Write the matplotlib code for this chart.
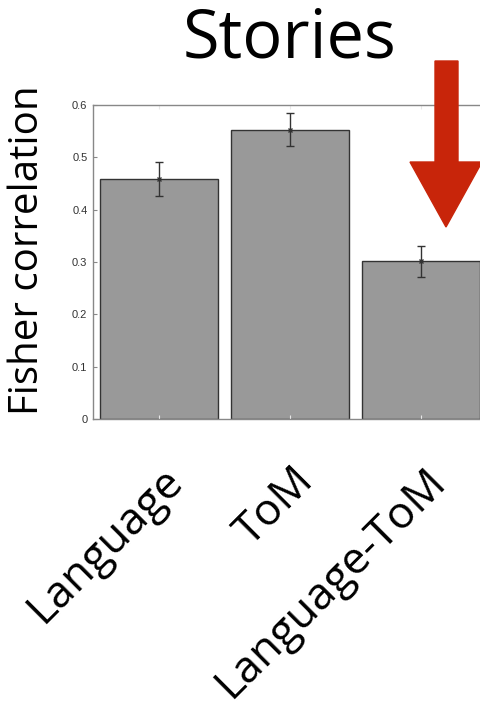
import matplotlib
matplotlib.use('Agg')
import matplotlib.pyplot as plt
import matplotlib.transforms as mtransforms
from matplotlib.patches import Polygon

categories = ['Language', 'ToM', 'Language-ToM']
means = [0.459, 0.553, 0.301]
errors = [0.032, 0.032, 0.029]
yticks = [0, 0.1, 0.2, 0.3, 0.4, 0.5, 0.6]
yticklabels = ['0', '0.1', '0.2', '0.3', '0.4', '0.5', '0.6']

W, H = 480, 720
fig = plt.figure(figsize=(4.8, 7.2), dpi=100)
ax = fig.add_axes([93 / W, 1 - 419 / H, (486.5 - 93) / W, (419 - 105) / H])

x = list(range(1, len(categories) + 1))
ax.bar(x, means, width=0.9, color='#999999', edgecolor='#333333', linewidth=1)
ax.errorbar(x, means, yerr=errors, fmt='x', color='#333333', ms=3,
            elinewidth=1, capsize=3, capthick=1)

ax.set_xlim(0.5, 3.5)
ax.set_ylim(0, 0.6)
ax.set_yticks(yticks)
ax.set_yticklabels(yticklabels, fontsize=8, color='#333333', family='Liberation Sans')
ax.set_xticks(x)
ax.set_xticklabels(categories, fontsize=32, family='Open Sans',
                   rotation=45, ha='right', va='center', rotation_mode='anchor')
ax.tick_params(axis='y', direction='in', length=3, color='#888888', pad=4)
ax.tick_params(axis='x', direction='in', length=3, color='#e8e8e8', pad=40, top=True)
offset = mtransforms.ScaledTranslation(18 / 100, 0, fig.dpi_scale_trans)
for lab in ax.get_xticklabels():
    lab.set_transform(lab.get_transform() + offset)
for s in ax.spines.values():
    s.set_color('#888888')
    s.set_linewidth(1)

fig.text(290 / W, 1 - 57 / H, 'Stories', fontsize=48, family='Open Sans',
         ha='center', va='baseline')
fig.text(28 / W, 1 - 250 / H, 'Fisher correlation', fontsize=29, family='Open Sans',
         rotation=90, ha='center', va='center')

# red arrow pointing down at the Language-ToM bar
arrow_px = [(435, 61), (458, 61), (458, 162), (482, 162), (446, 227),
            (410, 162), (435, 162)]
fig.add_artist(Polygon([(px / W, 1 - py / H) for px, py in arrow_px],
                       closed=True, color='#c8250a', transform=fig.transFigure))

fig.savefig('out.png', dpi=100)
